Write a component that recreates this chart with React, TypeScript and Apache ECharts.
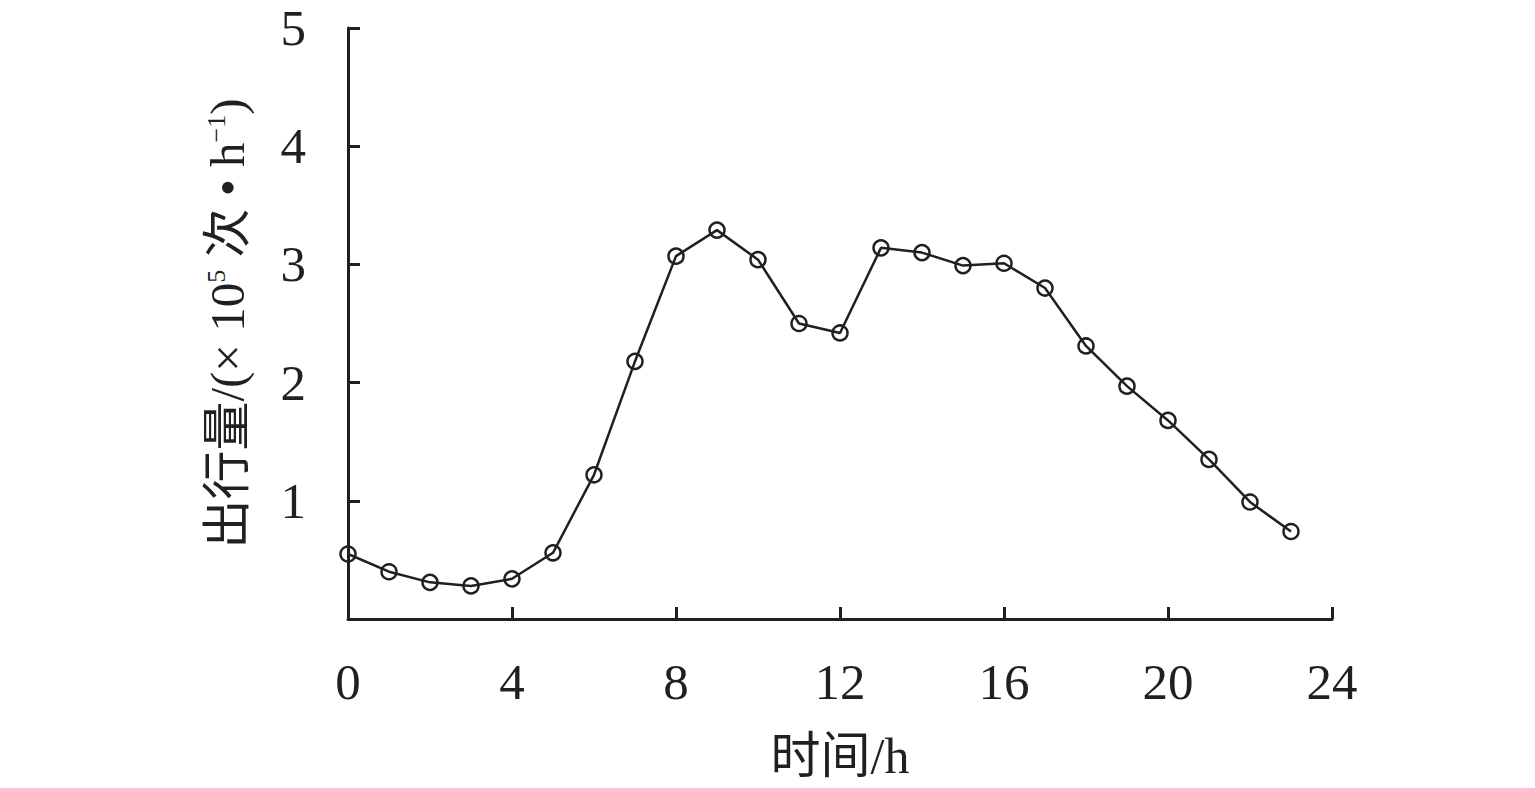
import React, { useEffect, useRef } from "react";
import * as echarts from "echarts";

const hours = [0, 1, 2, 3, 4, 5, 6, 7, 8, 9, 10, 11, 12, 13, 14, 15, 16, 17, 18, 19, 20, 21, 22, 23];
const trips = [0.55, 0.40, 0.31, 0.28, 0.34, 0.56, 1.22, 2.18, 3.07, 3.29, 3.04, 2.50, 2.42, 3.14, 3.10, 2.99, 3.01, 2.80, 2.31, 1.97, 1.68, 1.35, 0.99, 0.74];
const xTicks = [0, 4, 8, 12, 16, 20, 24];
const yTicks = [1, 2, 3, 4, 5];

const INK = "#231f20";
const FONT = "'Liberation Serif', 'Times New Roman', 'Noto Sans CJK SC', serif";

export default function App() {
  const ref = useRef<HTMLDivElement>(null);
  useEffect(() => {
    if (!ref.current) return;
    document.body.style.margin = "0";
    const chart = echarts.init(ref.current, null, { renderer: "svg" });
    chart.setOption({
      animation: false,
      backgroundColor: "#ffffff",
      grid: { left: 348, right: 203, top: 28, bottom: 169, containLabel: false },
      xAxis: {
        type: "value",
        min: 0,
        max: 24,
        interval: 4,
        name: "时间/h",
        nameLocation: "middle",
        nameGap: 112,
        nameTextStyle: { fontFamily: FONT, fontSize: 50, color: INK },
        axisLine: { show: true, lineStyle: { color: INK, width: 3 } },
        axisTick: { show: true, inside: true, length: 12, lineStyle: { color: INK, width: 3 } },
        axisLabel: {
          margin: 41,
          fontFamily: FONT,
          fontSize: 51,
          lineHeight: 44,
          color: INK,
          formatter: (v: number) => (xTicks.includes(v) ? String(v) : ""),
        },
        splitLine: { show: false },
      },
      yAxis: {
        type: "value",
        min: 0,
        max: 5,
        interval: 1,
        name: "{a|出行量/(× 10}{s|5}{a| 次 • h}{s|−1}{a|)}",
        nameLocation: "middle",
        nameGap: 96,
        nameTextStyle: {
          fontFamily: FONT,
          fontSize: 49,
          color: INK,
          rich: {
            a: { fontFamily: FONT, fontSize: 49, color: INK },
            s: { fontFamily: FONT, fontSize: 26, color: INK, verticalAlign: "top" },
          },
        },
        axisLine: { show: true, lineStyle: { color: INK, width: 3 } },
        axisTick: { show: true, inside: true, length: 12, lineStyle: { color: INK, width: 3 } },
        axisLabel: {
          margin: 42,
          fontFamily: FONT,
          fontSize: 51,
          lineHeight: 40,
          color: INK,
          formatter: (v: number) => (yTicks.includes(v) ? String(v) : ""),
        },
        splitLine: { show: false },
      },
      series: [
        {
          type: "line",
          data: hours.map((h, i) => [h, trips[i]]),
          symbol: "circle",
          symbolSize: 15,
          lineStyle: { color: INK, width: 2.5 },
          itemStyle: { color: "rgba(0,0,0,0)", borderColor: INK, borderWidth: 2.5 },
        },
      ],
    });
    return () => chart.dispose();
  }, []);
  return <div ref={ref} style={{ width: 1535, height: 788 }} />;
}
